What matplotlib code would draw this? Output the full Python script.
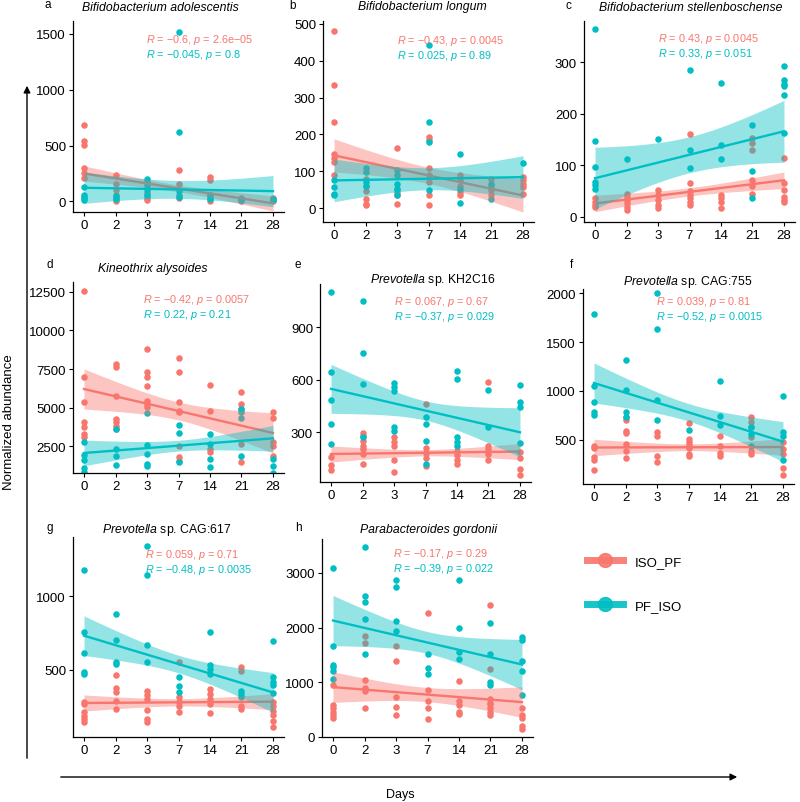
import numpy as np
import matplotlib.pyplot as plt
from matplotlib.lines import Line2D
from matplotlib.patches import FancyArrowPatch

plt.rcParams['font.family'] = ['Liberation Sans', 'DejaVu Sans']
plt.rcParams['mathtext.fontset'] = 'custom'
plt.rcParams['mathtext.it'] = 'Liberation Sans:italic'
plt.rcParams['mathtext.rm'] = 'Liberation Sans'

RED = '#F8766D'
TEAL = '#00BFC4'
W, H = 800, 803

days = [0, 2, 3, 7, 14, 21, 28]

# points per day (one list per day), ISO_PF = red, PF_ISO = teal
a_iso = [[683, 540, 505, 300, 205, 250], [235, 160, 100, 56, 27, 3], [86, 56, 27, 10],
         [279, 160, 56, 27], [220, 190, 56, 27, 3], [33, 3], [33, 3]]
a_pf = [[130, 56, 27, 12, 40], [50, 20], [200, 175, 145, 115, 60],
        [1520, 620, 90, 40], [60, 20], [20, 10], [10, 20]]

b_iso = [[480, 333, 235, 146, 136, 125, 89], [80, 60, 45, 25, 12, 7], [163, 52, 43, 34, 12],
         [193, 184, 108, 89, 70, 34, 9], [90, 75, 61, 43, 34], [80, 61, 48, 34], [84, 75, 66, 57, 39]]
b_pf = [[75, 57, 39, 34], [108, 98, 70, 61], [102, 89, 66, 52, 34],
        [443, 233, 179, 48], [147, 52, 14], [66, 25], [123]]

c_iso = [[36, 29, 23, 19], [45, 39, 32, 26, 19, 13], [52, 42, 32, 23, 18],
         [160, 66, 50, 42, 36, 28, 23], [42, 36, 28, 18], [153, 143, 130, 71, 60, 44],
         [115, 66, 53, 38, 32, 28]]
c_pf = [[364, 147, 97, 68, 62, 55], [112], [151], [284, 130, 94], [260, 140, 112],
        [179, 88, 36], [292, 266, 258, 253, 236, 162]]

d_iso = [[12520, 6961, 5388, 4052, 3771, 3297, 3082], [7823, 7608, 5776, 4267, 4052, 3836, 3620],
         [8793, 7284, 6961, 6422, 5452, 5237, 5021], [8189, 7284, 5388, 4806, 4698, 2543, 1789, 1573],
         [6465, 4806, 2328, 2155], [5991, 5237, 4914, 2651, 1466], [4698, 4310, 2759, 2543, 1897]]
d_pf = [[2802, 1940, 1638, 1078, 819], [3620, 2328, 1853, 1293], [4655, 2586, 2004, 1358, 1207],
        [3900, 3362, 1466], [3297, 2651, 1681, 1142], [4914, 4698, 4310, 1853], [1681, 1250, 776]]

e_iso = [[157, 113, 87], [296, 281, 252, 224, 205, 176, 119], [271, 247, 224, 144, 75],
         [462, 209, 182, 151, 110], [195, 170, 144, 119], [586, 224, 205, 176, 144], [186, 151, 90, 56]]
e_pf = [[1100, 643, 487, 348, 233], [1049, 751, 576, 271], [580, 557, 534, 332, 310],
        [386, 348, 252, 119], [649, 605, 271, 247, 224], [544, 329], [570, 471, 443, 239]]

f_iso = [[438, 418, 319, 295, 192], [729, 705, 592, 568, 456, 387, 309], [575, 534, 336, 274],
         [671, 507, 473, 445, 411, 353, 329], [534, 438, 363, 336], [729, 678, 626, 524, 387, 353],
         [473, 404, 353, 206, 138]]
f_pf = [[1788, 1054, 890, 780, 756], [1320, 1013, 780, 736], [2003, 1634, 907, 702], [599],
        [1105, 746, 654], [626, 558, 438], [944, 582, 541, 295]]

g_iso = [[277, 266, 209, 186, 164, 141], [464, 373, 345, 289, 232], [357, 327, 300, 227, 164, 141],
         [550, 311, 277, 250, 209], [368, 334, 300, 266, 205], [516, 493, 255, 232],
         [282, 255, 220, 191, 152, 107]]
g_pf = [[1182, 755, 614, 486, 470], [880, 702, 550, 539], [1341, 1146, 670, 550], [448, 386, 350],
        [759, 532, 505, 470], [357, 334, 311], [698, 448, 418, 395, 339]]

h_iso = [[939, 585, 524, 451, 390, 348], [1854, 1720, 1043, 890, 829, 524], [1671, 1384, 726, 543, 402],
         [2274, 848, 646, 524, 329], [1012, 646, 585, 451, 421],
         [2415, 1244, 695, 622, 604, 524, 451, 390], [524, 402, 341, 195, 146]]
h_pf = [[3092, 1671, 1317, 1274, 1213, 1061], [3482, 2586, 2464, 2159, 1518], [2872, 2738, 2128, 1945],
        [1518, 1262, 1140], [2878, 1988, 1549, 1427], [2086, 1518, 1000, 939],
        [1823, 1781, 1396, 1213, 756]]

# fitted lm line at day 0 / day 28 and ribbon half widths (middle, ends)
fit_start_iso = [250, 143, 26, 6207, 176, 420, 273, 909]
fit_end_iso = [-18, 34, 71, 3362, 190, 425, 282, 634]
band_mid_iso = [30, 22, 8, 580, 18, 35, 25, 130]
band_end_iso = [68, 45, 16, 1300, 46, 85, 55, 280]
fit_start_pf = [122, 75, 75, 2069, 548, 1081, 732, 2128]
fit_end_pf = [92, 84, 166, 3017, 300, 480, 345, 1323]
band_mid_pf = [80, 30, 35, 350, 55, 90, 60, 200]
band_end_pf = [140, 58, 60, 830, 140, 205, 135, 460]

letters = ['a', 'b', 'c', 'd', 'e', 'f', 'g', 'h']
titles = ['Bifidobacterium adolescentis', 'Bifidobacterium longum', 'Bifidobacterium stellenboschense',
          'Kineothrix alysoides', r'$\mathit{Prevotella}$ sp. KH2C16', r'$\mathit{Prevotella}$ sp. CAG:755',
          r'$\mathit{Prevotella}$ sp. CAG:617', 'Parabacteroides gordonii']
stats_iso = [('−0.6', '2.6e−05'), ('−0.43', '0.0045'), ('0.43', '0.0045'), ('−0.42', '0.0057'),
             ('0.067', '0.67'), ('0.039', '0.81'), ('0.059', '0.71'), ('−0.17', '0.29')]
stats_pf = [('−0.045', '0.8'), ('0.025', '0.89'), ('0.33', '0.051'), ('0.22', '0.21'),
            ('−0.37', '0.029'), ('−0.52', '0.0015'), ('−0.48', '0.0035'), ('−0.39', '0.022')]
ylims = [(-95, 1615), (-38, 508), (-10, 380), (774, 13130), (16, 1147), (46, 2044), (41, 1405), (-5, 3622)]
yticks = [[0, 500, 1000, 1500], [0, 100, 200, 300, 400, 500], [0, 100, 200, 300],
          [2500, 5000, 7500, 10000, 12500], [300, 600, 900], [500, 1000, 1500, 2000],
          [500, 1000], [0, 1000, 2000, 3000]]

# layout in pixels: axes left/top/bottom, title, letter, stats text
ax_px = [(73, 22, 213), (323, 22, 223), (584, 22, 223), (73, 283, 474),
         (320, 285, 483), (583, 290, 485), (73, 538, 738), (322, 540, 738)]
title_px = [(160, 8), (422, 7), (691, 8), (153, 269), (433, 280), (688, 282), (167, 530), (429, 530)]
letter_px = [(48, 5), (293, 6), (568, 6), (50, 265), (298, 265), (572, 265), (50, 528), (298, 528)]
stat_px = [(146, 40), (397, 41), (658, 39), (143, 300), (394, 302), (656, 302), (145, 555), (393, 554)]

fig = plt.figure(figsize=(8, 8.03), dpi=100)

def fx(x):
    return x / W

def fy(y):
    return 1 - y / H

panels = [(a_iso, a_pf), (b_iso, b_pf), (c_iso, c_pf), (d_iso, d_pf),
          (e_iso, e_pf), (f_iso, f_pf), (g_iso, g_pf), (h_iso, h_pf)]
xs = np.linspace(1, 7, 100)

for i, (iso, pf) in enumerate(panels):
    left, top, bottom = ax_px[i]
    ax = fig.add_axes([fx(left), fy(bottom), 211 / W, (bottom - top) / H])

    for grp, col in [(iso, RED), (pf, TEAL)]:
        px, py = [], []
        for k, vals in enumerate(grp):
            px += [k + 1] * len(vals)
            py += vals
        ax.scatter(px, py, s=22, color=col, linewidths=0, zorder=2)

    for y0, y1, hm, he, col, z in [
        (fit_start_iso[i], fit_end_iso[i], band_mid_iso[i], band_end_iso[i], RED, 3),
        (fit_start_pf[i], fit_end_pf[i], band_mid_pf[i], band_end_pf[i], TEAL, 5),
    ]:
        fit = y0 + (y1 - y0) * (xs - 1) / 6
        hw = np.sqrt(hm ** 2 + (he ** 2 - hm ** 2) * ((xs - 4) / 3) ** 2)
        ax.fill_between(xs, fit - hw, fit + hw, color=col, alpha=0.42, lw=0, zorder=z)
        ax.plot(xs, fit, color=col, lw=1.7, zorder=z + 0.5)

    ax.set_xlim(0.65, 7.35)
    ax.set_ylim(*ylims[i])
    ax.set_xticks(range(1, 8))
    ax.set_xticklabels(days)
    ax.set_yticks(yticks[i])
    ax.spines['top'].set_visible(False)
    ax.spines['right'].set_visible(False)
    ax.spines['left'].set_linewidth(0.9)
    ax.spines['bottom'].set_linewidth(0.9)
    ax.tick_params(length=3, width=0.8, labelsize=9.5, pad=2, colors='black')

    tx, ty = title_px[i]
    fig.text(fx(tx), fy(ty), titles[i], ha='center', va='center', fontsize=8.8,
             style='italic' if '$' not in titles[i] else 'normal')
    lx, ly = letter_px[i]
    fig.text(fx(lx), fy(ly), letters[i], ha='center', va='center', fontsize=8.5)
    sx, sy = stat_px[i]
    r, p = stats_iso[i]
    fig.text(fx(sx), fy(sy), r'$\mathit{R}$ = ' + r + r', $\mathit{p}$ = ' + p,
             ha='left', va='center', fontsize=7.8, color=RED)
    r, p = stats_pf[i]
    fig.text(fx(sx), fy(sy + 15), r'$\mathit{R}$ = ' + r + r', $\mathit{p}$ = ' + p,
             ha='left', va='center', fontsize=7.8, color=TEAL)

# legend
handles = [Line2D([], [], color=RED, lw=5, marker='o', markersize=10, alpha=0.9),
           Line2D([], [], color=TEAL, lw=5, marker='o', markersize=10, alpha=0.9)]
fig.legend(handles, ['ISO_PF', 'PF_ISO'], loc='upper left', bbox_to_anchor=(fx(575), fy(545)),
           frameon=False, fontsize=9.5, handlelength=2.7, labelspacing=2.4, handletextpad=0.9)

# big axis arrows
fig.add_artist(FancyArrowPatch((fx(27), fy(762)), (fx(27), fy(84)), transform=fig.transFigure,
                               arrowstyle='-|>', mutation_scale=10, lw=1, color='black'))
fig.add_artist(FancyArrowPatch((fx(58), fy(778)), (fx(740), fy(778)), transform=fig.transFigure,
                               arrowstyle='-|>', mutation_scale=10, lw=1, color='black'))
fig.text(fx(9), fy(422), 'Normalized abundance', rotation=90, ha='center', va='center', fontsize=9.5)
fig.text(fx(400), fy(795), 'Days', ha='center', va='center', fontsize=9)

plt.savefig('out.png', dpi=100)
